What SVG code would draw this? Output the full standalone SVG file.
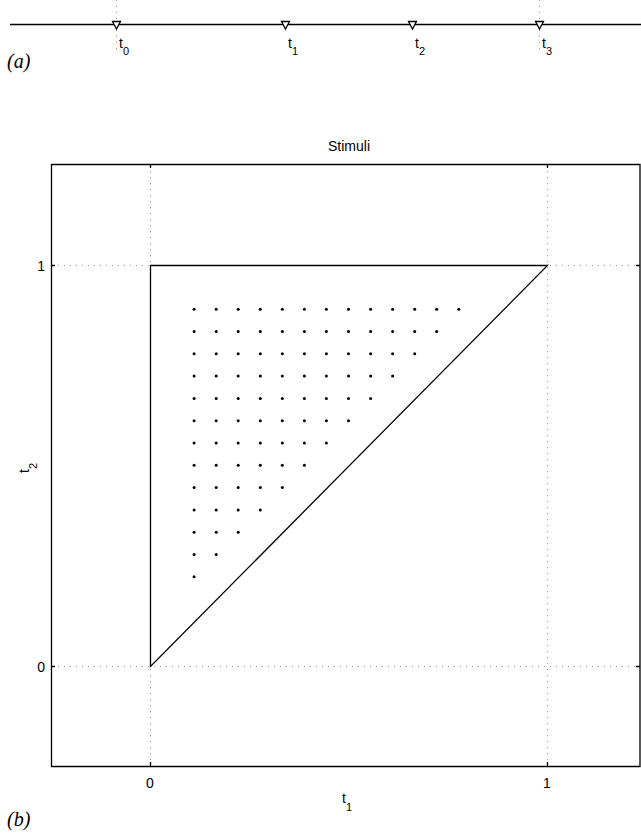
<svg xmlns="http://www.w3.org/2000/svg" width="641" height="834" viewBox="0 0 641 834">
<style>
.ax{fill:none;stroke:#000;stroke-width:1.3}
.grid{fill:none;stroke:#999;stroke-width:1;stroke-dasharray:1 5}
.lbl{font-family:"Liberation Sans",Arial,sans-serif;font-size:14px;fill:#000}
.sub{font-size:11px}
.pl{font-family:"Liberation Serif","Times New Roman",serif;font-style:italic;font-size:20px;fill:#000}
.mk{fill:#fff;stroke:#000;stroke-width:1.3}
.dot{fill:#000}
</style>
<defs>
<polygon id="tri" points="-4,-3.5 4,-3.5 0,4" class="mk"/>
<circle id="d" r="1.5" class="dot"/>
</defs>

<g id="timeline">
<line class="grid" x1="116.5" y1="0" x2="116.5" y2="52"/>
<line class="grid" x1="539.5" y1="0" x2="539.5" y2="52"/>
<line x1="10" y1="24.5" x2="641" y2="24.5" stroke="#000" stroke-width="1.3"/>
<use href="#tri" x="116.5" y="25"/>
<use href="#tri" x="285.5" y="25"/>
<use href="#tri" x="412.5" y="25"/>
<use href="#tri" x="539.5" y="25"/>
<text class="lbl" x="119" y="48">t<tspan class="sub" dy="7">0</tspan></text>
<text class="lbl" x="288" y="48">t<tspan class="sub" dy="7">1</tspan></text>
<text class="lbl" x="415" y="48">t<tspan class="sub" dy="7">2</tspan></text>
<text class="lbl" x="542" y="48">t<tspan class="sub" dy="7">3</tspan></text>
<text class="pl" x="7" y="68">(a)</text>
</g>

<g id="plot">
<text class="lbl" x="349" y="151" text-anchor="middle">Stimuli</text>
<line class="grid" x1="150.5" y1="165" x2="150.5" y2="765"/>
<line class="grid" x1="547.5" y1="165" x2="547.5" y2="765"/>
<line class="grid" x1="52" y1="265.5" x2="640" y2="265.5"/>
<line class="grid" x1="52" y1="666.5" x2="640" y2="666.5"/>
<path class="ax" d="M51.5,164.5 H640 V766.5 H51.5 Z"/>
<path class="ax" d="M150.5,164 v4 M547.5,164 v4 M150.5,766 v-4 M547.5,766 v-4 M51,265.5 h4 M51,666.5 h4 M640,265.5 h-4 M640,666.5 h-4"/>
<text class="lbl" x="45" y="271" text-anchor="end">1</text>
<text class="lbl" x="45" y="672" text-anchor="end">0</text>
<text class="lbl" x="150" y="788" text-anchor="middle">0</text>
<text class="lbl" x="547" y="788" text-anchor="middle">1</text>
<text class="lbl" x="342" y="803">t<tspan class="sub" dy="8" font-size="12px">1</tspan></text>
<text class="lbl" transform="translate(29,473) rotate(-90)">t<tspan class="sub" dy="8" font-size="12px">2</tspan></text>
<text class="pl" x="7" y="826">(b)</text>
</g>

<g id="triangle">
<polygon points="150.5,666.5 150.5,265.5 547.5,265.5" fill="none" stroke="#000" stroke-width="1.3" stroke-linejoin="miter"/>
</g>

<g id="stimuli">
<use href="#d" x="194.1" y="309.2"/><use href="#d" x="216.2" y="309.2"/><use href="#d" x="238.2" y="309.2"/><use href="#d" x="260.3" y="309.2"/><use href="#d" x="282.3" y="309.2"/><use href="#d" x="304.4" y="309.2"/><use href="#d" x="326.4" y="309.2"/><use href="#d" x="348.5" y="309.2"/><use href="#d" x="370.6" y="309.2"/><use href="#d" x="392.6" y="309.2"/><use href="#d" x="414.7" y="309.2"/><use href="#d" x="436.7" y="309.2"/><use href="#d" x="458.8" y="309.2"/>
<use href="#d" x="194.1" y="331.5"/><use href="#d" x="216.2" y="331.5"/><use href="#d" x="238.2" y="331.5"/><use href="#d" x="260.3" y="331.5"/><use href="#d" x="282.3" y="331.5"/><use href="#d" x="304.4" y="331.5"/><use href="#d" x="326.4" y="331.5"/><use href="#d" x="348.5" y="331.5"/><use href="#d" x="370.6" y="331.5"/><use href="#d" x="392.6" y="331.5"/><use href="#d" x="414.7" y="331.5"/><use href="#d" x="436.7" y="331.5"/>
<use href="#d" x="194.1" y="353.8"/><use href="#d" x="216.2" y="353.8"/><use href="#d" x="238.2" y="353.8"/><use href="#d" x="260.3" y="353.8"/><use href="#d" x="282.3" y="353.8"/><use href="#d" x="304.4" y="353.8"/><use href="#d" x="326.4" y="353.8"/><use href="#d" x="348.5" y="353.8"/><use href="#d" x="370.6" y="353.8"/><use href="#d" x="392.6" y="353.8"/><use href="#d" x="414.7" y="353.8"/>
<use href="#d" x="194.1" y="376.1"/><use href="#d" x="216.2" y="376.1"/><use href="#d" x="238.2" y="376.1"/><use href="#d" x="260.3" y="376.1"/><use href="#d" x="282.3" y="376.1"/><use href="#d" x="304.4" y="376.1"/><use href="#d" x="326.4" y="376.1"/><use href="#d" x="348.5" y="376.1"/><use href="#d" x="370.6" y="376.1"/><use href="#d" x="392.6" y="376.1"/>
<use href="#d" x="194.1" y="398.4"/><use href="#d" x="216.2" y="398.4"/><use href="#d" x="238.2" y="398.4"/><use href="#d" x="260.3" y="398.4"/><use href="#d" x="282.3" y="398.4"/><use href="#d" x="304.4" y="398.4"/><use href="#d" x="326.4" y="398.4"/><use href="#d" x="348.5" y="398.4"/><use href="#d" x="370.6" y="398.4"/>
<use href="#d" x="194.1" y="420.7"/><use href="#d" x="216.2" y="420.7"/><use href="#d" x="238.2" y="420.7"/><use href="#d" x="260.3" y="420.7"/><use href="#d" x="282.3" y="420.7"/><use href="#d" x="304.4" y="420.7"/><use href="#d" x="326.4" y="420.7"/><use href="#d" x="348.5" y="420.7"/>
<use href="#d" x="194.1" y="443.0"/><use href="#d" x="216.2" y="443.0"/><use href="#d" x="238.2" y="443.0"/><use href="#d" x="260.3" y="443.0"/><use href="#d" x="282.3" y="443.0"/><use href="#d" x="304.4" y="443.0"/><use href="#d" x="326.4" y="443.0"/>
<use href="#d" x="194.1" y="465.3"/><use href="#d" x="216.2" y="465.3"/><use href="#d" x="238.2" y="465.3"/><use href="#d" x="260.3" y="465.3"/><use href="#d" x="282.3" y="465.3"/><use href="#d" x="304.4" y="465.3"/>
<use href="#d" x="194.1" y="487.6"/><use href="#d" x="216.2" y="487.6"/><use href="#d" x="238.2" y="487.6"/><use href="#d" x="260.3" y="487.6"/><use href="#d" x="282.3" y="487.6"/>
<use href="#d" x="194.1" y="509.9"/><use href="#d" x="216.2" y="509.9"/><use href="#d" x="238.2" y="509.9"/><use href="#d" x="260.3" y="509.9"/>
<use href="#d" x="194.1" y="532.2"/><use href="#d" x="216.2" y="532.2"/><use href="#d" x="238.2" y="532.2"/>
<use href="#d" x="194.1" y="554.5"/><use href="#d" x="216.2" y="554.5"/>
<use href="#d" x="194.1" y="576.8"/>
</g>
</svg>
